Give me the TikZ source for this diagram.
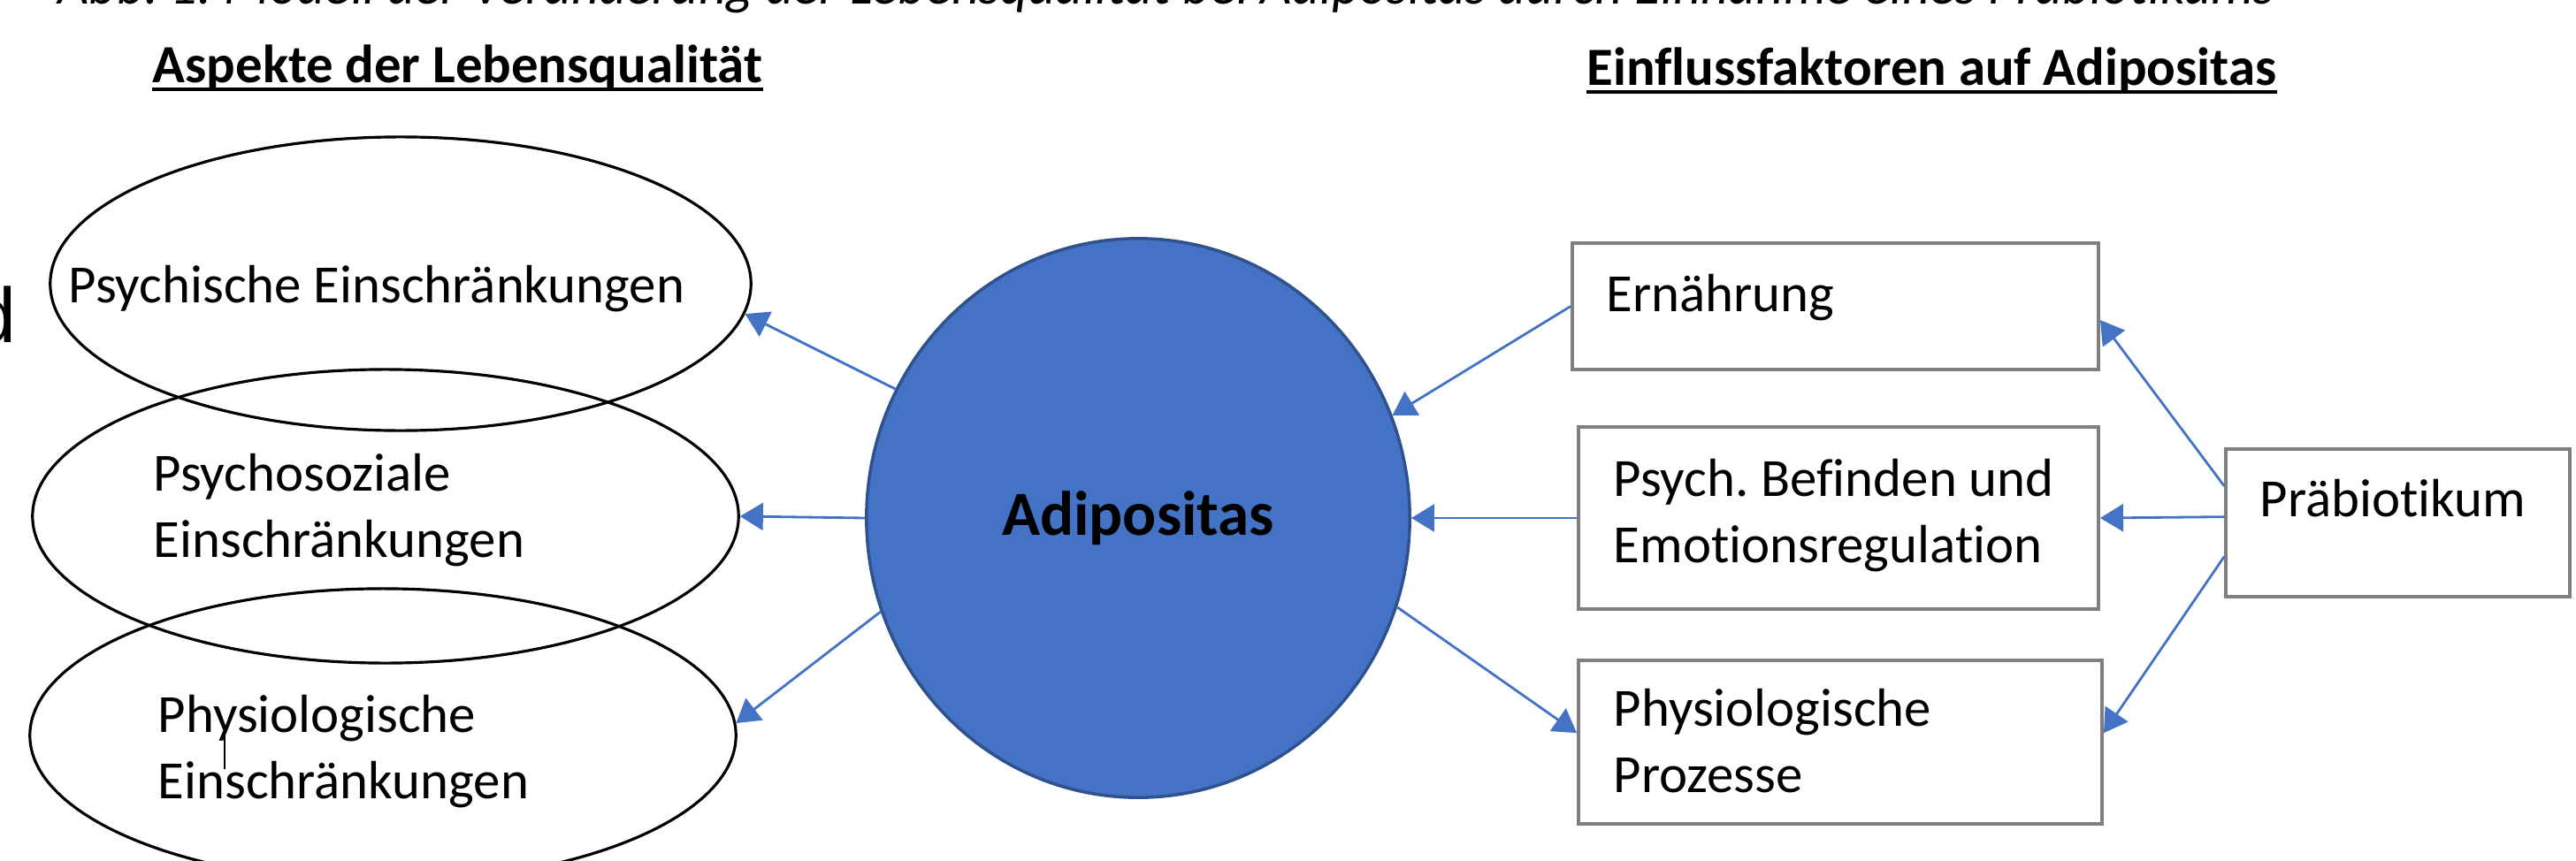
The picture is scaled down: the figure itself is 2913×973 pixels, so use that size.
\documentclass[tikz,border=0pt]{standalone}
\usepackage{fontspec}
\setmainfont{Carlito}[Ligatures=NoCommon]
\newfontfamily\fragfont{Liberation Sans}
\usepackage{tikz}
\usetikzlibrary{arrows.meta,positioning,shapes.geometric}
\definecolor{adiblue}{HTML}{4472C4}
\definecolor{adiedge}{HTML}{2F528F}
\definecolor{boxgray}{HTML}{7F7F7F}
\frenchspacing

\begin{document}
\begin{tikzpicture}[
x=0.01cm,y=-0.01cm,
txt/.style={inner sep=0pt,anchor=west,align=left,font=\fontsize{17.3}{21.3}\selectfont},
hdr/.style={inner sep=0pt,anchor=base west,font=\fontsize{17.3}{21.3}\selectfont\bfseries},
ell/.style={draw,ellipse,line width=0.9pt,inner sep=0pt,minimum height=3.32cm},
fbox/.style={draw=boxgray,line width=1pt,inner sep=0pt},
arr/.style={adiblue,line width=0.8pt,-{Triangle[length=7.4pt,width=8.8pt]}}
]
\useasboundingbox (0,0) rectangle (2913,973);

% caption (cut off at the top) and headings
\node[inner sep=0pt,anchor=base west,font=\fontsize{17.3}{21.3}\selectfont\itshape] (cap) at (65,5) {Abb. 1: Modell der Veränderung der Lebensqualität bei Adipositas durch Einnahme eines Präbiotikums};
\node[inner sep=0pt,anchor=base west,font=\fragfont\fontsize{25}{30}\selectfont] (frag) at (-31,387) {d};
\node[hdr] (hleft) at (172,94) {Aspekte der Lebensqualität};
\node[hdr] (hright) at (1794,97) {Einflussfaktoren auf Adipositas};
\draw[line width=1.4pt] ([yshift=-2pt]hleft.base west) -- ([yshift=-2pt]hleft.base east);
\draw[line width=1.4pt] ([yshift=-2pt]hright.base west) -- ([yshift=-2pt]hright.base east);

% aspects of quality of life
\node[ell,minimum width=7.92cm] (el1) at (453,321) {};
\node[ell,minimum width=7.98cm] (el2) at (436,584) {};
\node[ell,minimum width=7.98cm] (el3) at (433,832) {};
\node[txt] (t1) at (77,327) {Psychische Einschränkungen};
\node[txt] (t2) at (173,577) {Psychosoziale\\Einschränkungen};
\node[txt] (t3) at (178,850) {Physiologische\\Einschränkungen};
\draw[line width=0.6pt] (254,823) -- (254,870);

% centre
\node[ellipse,draw=adiedge,fill=adiblue,line width=1pt,minimum width=6.14cm,minimum height=6.32cm,font=\fontsize{20.2}{24}\selectfont\bfseries] (adi) at (1287,586) {Adipositas};

% influencing factors
\node[fbox,minimum width=5.95cm,minimum height=1.43cm] (b1) at (2075.5,346.5) {};
\node[fbox,minimum width=5.88cm,minimum height=2.06cm] (b2) at (2079,586) {};
\node[fbox,minimum width=5.92cm,minimum height=1.85cm] (b3) at (2081,839.5) {};
\node[fbox,minimum width=3.89cm,minimum height=1.67cm] (b4) at (2711.5,591.5) {};
\node[txt] (u1) at (1816,337) {Ernährung};
\node[txt] (u2) at (1824,583.5) {Psych. Befinden und\\Emotionsregulation};
\node[txt] (u3) at (1824,838.5) {Physiologische\\Prozesse};
\node[txt] (u4) at (2555,564) {Präbiotikum};

% arrows
\draw[arr] (adi.152) -- (el1.-5); \draw[arr] (adi.west) -- (el2.east); \draw[arr] (adi.200) -- (el3.2);
\draw[arr] (b1.west) -- (adi.22); \draw[arr] (b2.west) -- (adi.east); \draw[arr] (adi.-19) -- (b3.178);
\draw[arr] (b4.168) -- (b1.-3); \draw[arr] (b4.178) -- (b2.east); \draw[arr] (b4.191) -- (b3.2);
\end{tikzpicture}
\end{document}
